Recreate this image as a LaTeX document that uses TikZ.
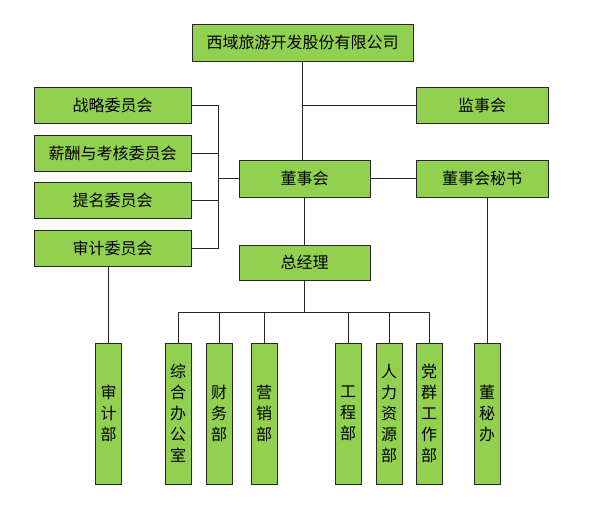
\documentclass[tikz,border=0pt]{standalone}
\usepackage{fontspec}
\setmainfont{Noto Sans CJK SC}
\usepackage{tikz}

\definecolor{boxgreen}{RGB}{146,208,80}
\tikzset{
  unit/.style={draw=black!85, fill=boxgreen, line width=0.9pt, inner sep=0pt,
    align=center, font=\fontsize{16}{21}\selectfont},
  dept/.style={unit, minimum width=26pt, minimum height=141pt},
  link/.style={line width=0.9pt, black!85}
}

\begin{document}
\begin{tikzpicture}[x=1pt,y=-1pt]
\useasboundingbox (0,0) rectangle (596,507);

% top level
\node [unit, minimum width=221pt, minimum height=37pt] (company) at (302.5,42.5) {西域旅游开发股份有限公司};
\node [unit, minimum width=132pt, minimum height=36pt] (supervisor) at (482,105) {监事会};
\node [unit, minimum width=131pt, minimum height=37pt] (board) at (304.5,178.5) {董事会};
\node [unit, minimum width=132pt, minimum height=37pt] (secretary) at (482,178.5) {董事会秘书};
\node [unit, minimum width=131pt, minimum height=35pt] (gm) at (304.5,262.5) {总经理};

% committees
\node [unit, minimum width=157pt, minimum height=36pt] (strategy) at (112.5,105) {战略委员会};
\node [unit, minimum width=157pt, minimum height=36pt] (salary) at (112.5,153) {薪酬与考核委员会};
\node [unit, minimum width=157pt, minimum height=36pt] (nominate) at (112.5,200.5) {提名委员会};
\node [unit, minimum width=157pt, minimum height=36pt] (auditcom) at (112.5,248) {审计委员会};

% departments
\node [dept] (auditdept) at (108.5,413.5) {审\\计\\部};
\node [dept] (office) at (178,413.5) {综\\合\\办\\公\\室};
\node [dept] (finance) at (219,413.5) {财\\务\\部};
\node [dept] (sales) at (264,413.5) {营\\销\\部};
\node [dept] (engineer) at (348,413.5) {工\\程\\部};
\node [dept] (hr) at (389,413.5) {人\\力\\资\\源\\部};
\node [dept] (party) at (429,413.5) {党\\群\\工\\作\\部};
\node [dept] (dmb) at (487,413.5) {董\\秘\\办};

% helper points
\coordinate (brk) at (218,178.5);
\coordinate (bus) at (304.5,312);

% trunk
\draw [link] (company.south) -- (company.south |- board.north);
\draw [link] (company.south |- supervisor.west) -- (supervisor.west);
\draw [link] (board.east) -- (secretary.west);
\draw [link] (board.south) -- (gm.north);
\draw [link] (dmb.north |- secretary.south) -- (dmb.north);
\draw [link] (auditdept.north |- auditcom.south) -- (auditdept.north);

% committee bracket
\draw [link] (strategy.east) -- (brk |- strategy.east) -- (brk |- auditcom.east) -- (auditcom.east);
\draw [link] (salary.east) -- (brk |- salary.east);
\draw [link] (nominate.east) -- (brk |- nominate.east);
\draw [link] (brk) -- (board.west);

% department bus
\draw [link] (gm.south) -- (bus);
\draw [link] (office.north) -- (office.north |- bus) -- (party.north |- bus) -- (party.north);
\foreach \d in {finance,sales,engineer,hr}
  \draw [link] (\d.north |- bus) -- (\d.north);

\end{tikzpicture}
\end{document}
